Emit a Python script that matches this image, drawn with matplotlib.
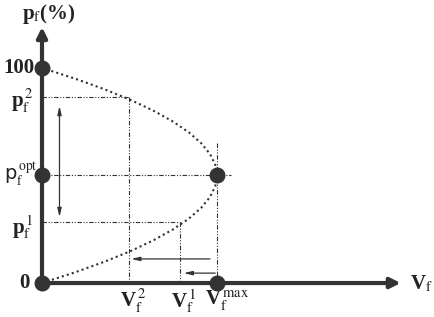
import matplotlib
matplotlib.use("Agg")
import matplotlib.pyplot as plt

plt.rcParams['font.family'] = ['Liberation Serif', 'DejaVu Serif']
plt.rcParams['mathtext.fontset'] = 'stix'

# values (V relative to V_f^max, p in %)
curve_p = [0, 5, 10, 15, 20, 25, 30, 35, 40, 45, 50, 55, 60, 65, 70, 75, 80, 85, 90, 95, 100]
curve_v = [0, 0.19, 0.36, 0.51, 0.64, 0.75, 0.84, 0.91, 0.96, 0.99, 1.0,
           0.99, 0.96, 0.91, 0.84, 0.75, 0.64, 0.51, 0.36, 0.19, 0]
p_opt, p1, p2 = 50, 28.4, 86.5
v_max, v1, v2 = 1.0, 0.79, 0.50
dot_v = [0, 0, 0, v_max, v_max]
dot_p = [0, p_opt, 100, p_opt, 0]

ink = '#333333'
fig = plt.figure(figsize=(4.34, 3.17), dpi=100)
ax = fig.add_axes([0, 0, 1, 1])
ax.set_xlim(-0.24, 2.24)
ax.set_ylim(-15.8, 131.6)
ax.axis('off')

# axes with arrow heads
ax.annotate('', xy=(0, 119), xytext=(0, 0),
            arrowprops=dict(arrowstyle='-|>,head_length=0.6,head_width=0.3', lw=3, color=ink, shrinkA=0, shrinkB=0))
ax.annotate('', xy=(2.05, 0), xytext=(0, 0),
            arrowprops=dict(arrowstyle='-|>,head_length=0.6,head_width=0.3', lw=3, color=ink, shrinkA=0, shrinkB=0))

# the curve
ax.plot(curve_v, curve_p, color=ink, lw=1.5, ls=(0, (1, 1.5)))

# guide lines
guide = dict(color=ink, lw=0.8, ls=(0, (4, 1.5, 1, 1.5, 1, 1.5)))
ax.plot([0, v2], [p2, p2], **guide)
ax.plot([v2, v2], [p2, 0], **guide)
ax.plot([0, v1], [p1, p1], **guide)
ax.plot([v1, v1], [p1, 0], **guide)
ax.plot([0, 1.08], [p_opt, p_opt], **guide)
ax.plot([v_max, v_max], [65, 0], **guide)

# arrows
ax.annotate('', xy=(0.10, 82.3), xytext=(0.10, 30.7),
            arrowprops=dict(arrowstyle='<|-|>,head_length=0.5,head_width=0.12', lw=0.9,
                            color=ink, shrinkA=0, shrinkB=0))
arr = dict(arrowstyle='-|>,head_length=0.5,head_width=0.12', lw=0.9, color=ink, shrinkA=0, shrinkB=0)
ax.annotate('', xy=(0.51, 11.2), xytext=(0.96, 11.2), arrowprops=arr)
ax.annotate('', xy=(0.81, 4.6), xytext=(0.99, 4.6), arrowprops=arr)

# dots
ax.scatter(dot_v, dot_p, s=110, color=ink, zorder=5)

# labels
fs = 15
lab = dict(fontsize=fs, ha='center', va='center', weight='bold', color='#222222')
ax.text(0.04, 125, r'p$_\mathrm{f}$(%)', **lab)
ax.text(-0.13, 100, '100', **lab)
ax.text(-0.11, 84.5, r'p$_\mathrm{f}^{\,2}$', **lab)
ax.text(-0.12, 50.5, r'p$_\mathrm{f}^{\,\mathrm{opt}}$', fontsize=14, ha='center', va='center',
        family='DejaVu Sans', color='#222222')
ax.text(-0.11, 26, r'p$_\mathrm{f}^{\,1}$', **lab)
ax.text(-0.10, 0, '0', **lab)
ax.text(v2 + 0.02, -8.5, r'V$_\mathrm{f}^{\,2}$', **lab)
ax.text(v1 + 0.02, -8.5, r'V$_\mathrm{f}^{\,1}$', **lab)
ax.text(v_max + 0.06, -8.5, r'V$_\mathrm{f}^{\,\mathrm{max}}$', **lab)
ax.text(2.17, -0.5, r'V$_\mathrm{f}$', **lab)

fig.savefig('out.png', dpi=100)
